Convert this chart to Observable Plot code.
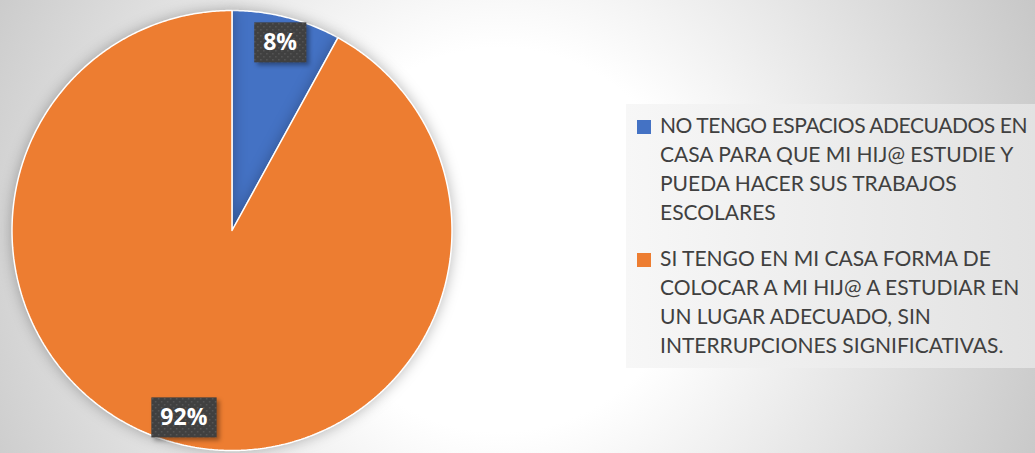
<!DOCTYPE html>
<html>
<head>
<meta charset="utf-8">
<script src="https://cdn.jsdelivr.net/npm/d3@7"></script>
<script src="https://cdn.jsdelivr.net/npm/@observablehq/plot@0.6"></script>
<style>
  html, body { margin: 0; padding: 0; }
  #chart {
    position: relative; width: 1035px; height: 453px; overflow: hidden;
    background: radial-gradient(circle 640px at 500px 240px, #ffffff 30%, #c0c0c0 100%);
  }
  #chart svg { position: absolute; left: 0; top: 0; background: transparent; }
  .pie { filter: drop-shadow(0px 0px 7px rgba(0,0,0,0.28)); }
  .label-box { filter: drop-shadow(3px 3px 2px rgba(0,0,0,0.35)); }
  #legend {
    position: absolute; left: 626px; top: 104px; width: 409px; height: 264px;
    background: linear-gradient(to right, #f7f7f7, #e2e2e2);
    font-family: Lato, "Open Sans", sans-serif; font-size: 21px; line-height: 29px; color: #404040;
    box-sizing: border-box; padding-top: 6px;
  }
  .item { position: relative; padding-left: 34px; margin-bottom: 17px; white-space: nowrap; }
  .line { display: inline-block; }
  .swatch { position: absolute; left: 11px; top: 10px; width: 14px; height: 14px; }
</style>
</head>
<body>
<div id="chart"></div>
<script>
// ---- data ----
const categories = [
  "NO TENGO ESPACIOS ADECUADOS EN CASA PARA QUE MI HIJ@ ESTUDIE Y PUEDA HACER SUS TRABAJOS ESCOLARES",
  "SI TENGO EN MI CASA FORMA DE COLOCAR A MI HIJ@ A ESTUDIAR EN UN LUGAR ADECUADO, SIN INTERRUPCIONES SIGNIFICATIVAS."
];
const legendLines = [
  ["NO TENGO ESPACIOS ADECUADOS EN", "CASA PARA QUE MI HIJ@ ESTUDIE Y", "PUEDA HACER SUS TRABAJOS", "ESCOLARES"],
  ["SI TENGO EN MI CASA FORMA DE", "COLOCAR A MI HIJ@ A ESTUDIAR EN", "UN LUGAR ADECUADO, SIN", "INTERRUPCIONES SIGNIFICATIVAS."]
];
const values = [8, 92];
const percentLabels = ["8%", "92%"];
const colors = ["#4472C4", "#ED7D31"];

// ---- geometry from data ----
const total = d3.sum(values);
let acc = 0;
const slices = values.map((v, i) => {
  const a0 = acc / total * 2 * Math.PI;
  acc += v;
  const a1 = acc / total * 2 * Math.PI;
  const n = Math.max(2, Math.ceil((a1 - a0) / (Math.PI / 360)));
  const pts = [{x: 0, y: 0}];
  for (let k = 0; k <= n; k++) {
    const a = a0 + (a1 - a0) * k / n;
    pts.push({x: Math.sin(a), y: Math.cos(a)});
  }
  pts.push({x: 0, y: 0});
  const am = (a0 + a1) / 2;
  return {category: categories[i], color: colors[i], pts, label: percentLabels[i],
          lx: 0.88 * Math.sin(am), ly: 0.88 * Math.cos(am)};
});

const W = 1035, H = 453;
const cx = 231.5, cy = 230, R = 220;

const plot = Plot.plot({
  width: W, height: H,
  marginLeft: cx - R, marginRight: W - (cx + R),
  marginTop: cy - R, marginBottom: H - (cy + R),
  x: {domain: [-1, 1], axis: null},
  y: {domain: [-1, 1], axis: null},
  style: {background: "transparent", overflow: "visible"},
  marks: [
    ...slices.map(s => Plot.line(s.pts, {x: "x", y: "y", fill: s.color, stroke: "white", strokeWidth: 1.5, strokeLinejoin: "miter", className: "pie"})),
    Plot.text(slices, {x: "lx", y: "ly", text: "label", fill: "white", fontWeight: "bold", fontSize: 23,
      fontFamily: "'Open Sans', sans-serif", className: "pie-label"})
  ]
});

const chart = document.getElementById("chart");
chart.appendChild(plot);

// pattern for label boxes
const svg = d3.select(plot);
const defs = svg.insert("defs", ":first-child");
const pat = defs.append("pattern").attr("id", "dots").attr("patternUnits", "userSpaceOnUse")
  .attr("width", 6).attr("height", 6);
pat.append("rect").attr("width", 6).attr("height", 6).attr("fill", "#404040");
pat.append("rect").attr("x", 1).attr("y", 1).attr("width", 1.5).attr("height", 1.5).attr("fill", "#575757");
pat.append("rect").attr("x", 4).attr("y", 4).attr("width", 1.5).attr("height", 1.5).attr("fill", "#575757");

// label boxes behind texts (same transform as the text)
svg.selectAll("g.pie-label text").each(function() {
  const b = this.getBBox();
  const padX = 9, padY = 6;
  const r = d3.select(this.parentNode).insert("rect", () => this)
    .attr("class", "label-box")
    .attr("x", b.x - padX).attr("y", b.y - padY + 3)
    .attr("width", b.width + 2 * padX).attr("height", b.height + 2 * padY - 4)
    .attr("fill", "url(#dots)");
  const t = this.getAttribute("transform");
  if (t) r.attr("transform", t);
});

// legend
const legend = d3.select(chart).append("div").attr("id", "legend");
categories.forEach((c, i) => {
  const item = legend.append("div").attr("class", "item").attr("title", c);
  item.append("span").attr("class", "swatch").style("background", colors[i]);
  legendLines[i].forEach(l => { item.append("div").append("span").attr("class", "line").text(l); });
});
// fit over-wide lines into the legend column
legend.selectAll(".line").each(function() {
  const maxW = 367;
  const w = this.getBoundingClientRect().width;
  if (w > maxW) this.style.letterSpacing = ((maxW - w) / this.textContent.length) + "px";
});
</script>
</body>
</html>
